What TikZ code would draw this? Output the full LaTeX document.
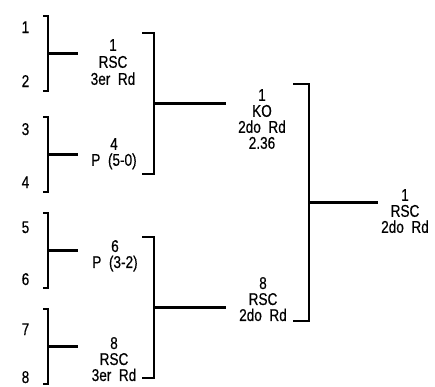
\documentclass[tikz,border=0pt]{standalone}
\usepackage{fontspec}
\setmainfont{Liberation Sans}[FakeStretch=0.8, WordSpace=2, FakeBold=0.5]
\begin{document}
\begin{tikzpicture}[x=1pt,y=-1pt, line width=2.2pt,
  lbl/.style={font=\fontsize{17}{16}\selectfont, align=center, inner sep=0pt, anchor=north},
  seed/.style={font=\fontsize{17}{16}\selectfont, inner sep=0pt, anchor=base},
  br/.style={line cap=butt, line join=miter}]
\useasboundingbox (0,0) rectangle (435,386);
% seeds
\node[seed] (s1) at (25.5,33) {1};
\node[seed] (s2) at (25.5,87) {2};
\node[seed] (s3) at (25.5,135) {3};
\node[seed] (s4) at (25.5,188) {4};
\node[seed] (s5) at (25.5,233) {5};
\node[seed] (s6) at (25.5,285) {6};
\node[seed] (s7) at (25.5,335) {7};
\node[seed] (s8) at (25.5,383) {8};
% round 1 results
\node[lbl] (q1) at (113,38) {1\\[1pt]RSC\\[1pt]3er Rd};
\node[lbl] (q2) at (114,137) {4\\P (5-0)};
\node[lbl] (q3) at (115,239) {6\\P (3-2)};
\node[lbl] (q4) at (114,336) {8\\RSC\\3er Rd};
% semifinal results
\node[lbl] (sf1) at (262,88) {1\\KO\\2do Rd\\2.36};
\node[lbl] (sf2) at (263,276) {8\\RSC\\2do Rd};
% final
\node[lbl] (f) at (405,188) {1\\RSC\\2do Rd};
% bracket coordinates, round 1
\coordinate (a1t) at (43,16);  \coordinate (a1b) at (43,91);
\coordinate (a2t) at (43,117); \coordinate (a2b) at (43,192);
\coordinate (a3t) at (43,213); \coordinate (a3b) at (43,288);
\coordinate (a4t) at (43,309); \coordinate (a4b) at (43,384);
\foreach \i/\t/\b in {1/16/91,2/117/192,3/213/288,4/309/384}{
  \draw[br] (a\i t) -- (48,\t) -- (48,\b) -- (a\i b);
  \coordinate (m\i) at (78,{(\t+\b)/2});
  \draw (48,{(\t+\b)/2}) -- (m\i);
}
% round 2 brackets
\coordinate (b1t) at (142,33);  \coordinate (b1b) at (142,174);
\coordinate (b2t) at (142,237); \coordinate (b2b) at (142,378);
\foreach \i/\t/\b in {1/33/174,2/237/378}{
  \draw[br] (b\i t) -- (154,\t) -- (154,\b) -- (b\i b);
  \coordinate (n\i) at (226,{(\t+\b)/2});
  \draw (154,{(\t+\b)/2}) -- (n\i);
}
% final bracket
\coordinate (ct) at (293,84); \coordinate (cb) at (293,321);
\coordinate (fm) at (378,202.5);
\draw[br] (ct) -- (309,84) -- (309,321) -- (cb);
\draw (309,202.5) -- (fm);
\end{tikzpicture}
\end{document}
